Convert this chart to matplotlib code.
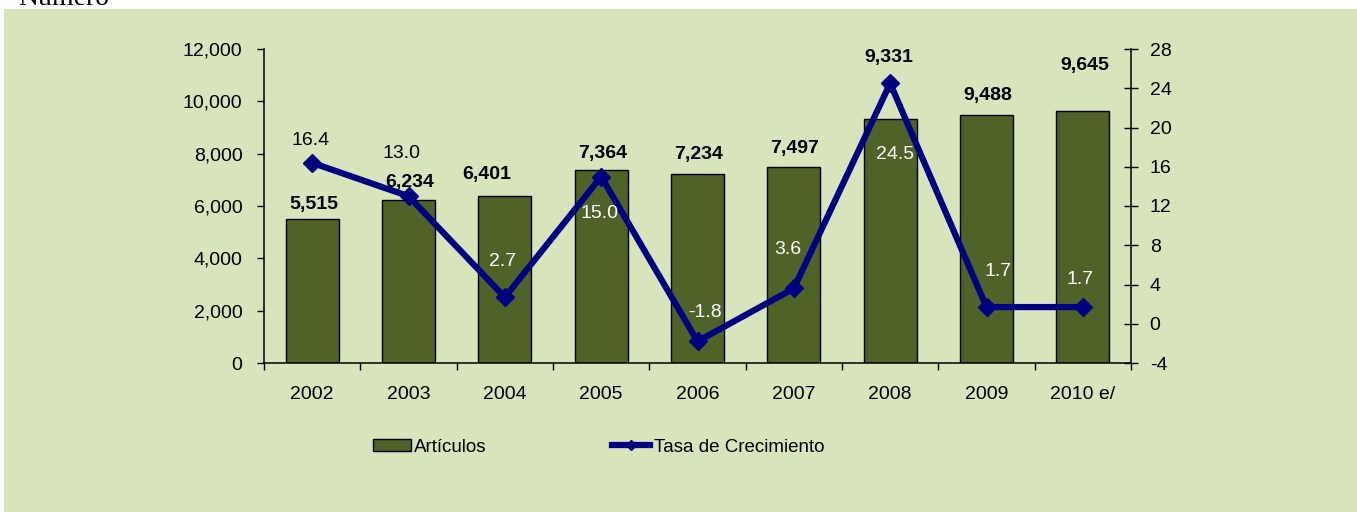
import matplotlib
matplotlib.use("Agg")
import matplotlib.pyplot as plt
from matplotlib.patches import Rectangle, Patch
from matplotlib.lines import Line2D
from matplotlib.ticker import FixedLocator, FuncFormatter

# Data
years = ["2002", "2003", "2004", "2005", "2006", "2007", "2008", "2009", "2010 e/"]
articulos = [5515, 6234, 6401, 7364, 7234, 7497, 9331, 9488, 9645]
tasa = [16.4, 13.0, 2.7, 15.0, -1.8, 3.6, 24.5, 1.7, 1.7]

# Label placement (pixel offsets)
bar_label_off = [(2, 14), (1, 17), (-18, 21), (1, 17), (1, 19), (1, 18), (-1, 61), (1, 19), (2, 45)]
rate_label_off = [(-2, 22), (-7, 43), (-2, 36), (-2, -37), (7, 29), (-6, 39), (5, -71), (12, 36), (-3, 28)]
rate_label_col = ["black", "black", "white", "white", "white", "white", "white", "white", "white"]

BG = "#D8E4BC"
BAR = "#4F6228"
LINE = "#000080"
FS = 14

plt.rcParams["font.family"] = ["Liberation Sans", "DejaVu Sans"]

W, H = 1357, 512
fig = plt.figure(figsize=(W / 100, H / 100), dpi=100, facecolor="white")
fig.patches.append(Rectangle((4 / W, 0), 1 - 4 / W, (H - 9) / H, transform=fig.transFigure,
                             facecolor=BG, edgecolor="none", zorder=-5))
fig.text(18 / W, 1 - 5 / H, "Número", family=["Liberation Serif", "DejaVu Serif"],
         fontsize=20, va="baseline", ha="left", color="black", zorder=-4)

ax = fig.add_axes([264 / W, 149 / H, 867 / W, 314 / H])
ax.set_facecolor("none")
x = list(range(len(years)))
ax.bar(x, articulos, width=0.55, color=BAR, edgecolor="black", linewidth=1.0, zorder=2)
ax.set_xlim(-0.5, len(years) - 0.5)
ax.set_ylim(0, 12000)
ax.set_yticks(range(0, 12001, 2000))
ax.yaxis.set_major_formatter(FuncFormatter(lambda v, p: f"{int(v):,}"))
ax.tick_params(axis="y", direction="out", length=5, width=1, pad=10.5, labelsize=FS)
ax.set_xticks(x)
ax.set_xticklabels(years)
ax.xaxis.set_minor_locator(FixedLocator([i - 0.5 for i in range(len(years) + 1)]))
ax.tick_params(axis="x", which="major", length=0, pad=16.5, labelsize=FS)
ax.tick_params(axis="x", which="minor", direction="out", length=5, width=1)
for s in ["top", "right"]:
    ax.spines[s].set_visible(False)
for s in ["left", "bottom"]:
    ax.spines[s].set_linewidth(1.1)

for xi, v, (dx, dy) in zip(x, articulos, bar_label_off):
    ax.annotate(f"{v:,}", (xi, v), xytext=(dx, dy), textcoords="offset pixels",
                ha="center", va="center", fontsize=FS, fontweight="bold", color="black", zorder=5)

ax2 = ax.twinx()
ax2.set_facecolor("none")
ax2.set_ylim(-4, 28)
ax2.set_yticks(range(-4, 29, 4))
ax2.yaxis.set_major_formatter(FuncFormatter(lambda v, p: f"{int(v)}"))
ax2.tick_params(axis="y", direction="inout", length=10, width=1, pad=8.5, labelsize=FS)
for s in ["top", "left", "bottom"]:
    ax2.spines[s].set_visible(False)
ax2.spines["right"].set_linewidth(1.1)
ax2.plot(x, tasa, color=LINE, linewidth=4.5, marker="D", markersize=9.5, markeredgewidth=1,
         markerfacecolor=LINE, markeredgecolor=LINE, zorder=3, solid_joinstyle="miter")
for xi, v, (dx, dy), c in zip(x, tasa, rate_label_off, rate_label_col):
    ax2.annotate(f"{v:.1f}", (xi, v), xytext=(dx, dy), textcoords="offset pixels",
                 ha="center", va="center", fontsize=FS, color=c, zorder=5)

handles = [Patch(facecolor=BAR, edgecolor="black", linewidth=1.0),
           Line2D([], [], color=LINE, linewidth=4.5, marker="D", markersize=5,
                  markerfacecolor=LINE, markeredgecolor=LINE)]
fig.legend(handles, ["Artículos", "Tasa de Crecimiento"], loc="center left",
           bbox_to_anchor=(373 / W, 1 - 447 / H), ncol=2, frameon=False, fontsize=13.5,
           handlelength=2.0, handleheight=0.6, handletextpad=0.2, columnspacing=6.7,
           borderpad=0, borderaxespad=0)

fig.savefig("out.png", dpi=100, facecolor="white")
